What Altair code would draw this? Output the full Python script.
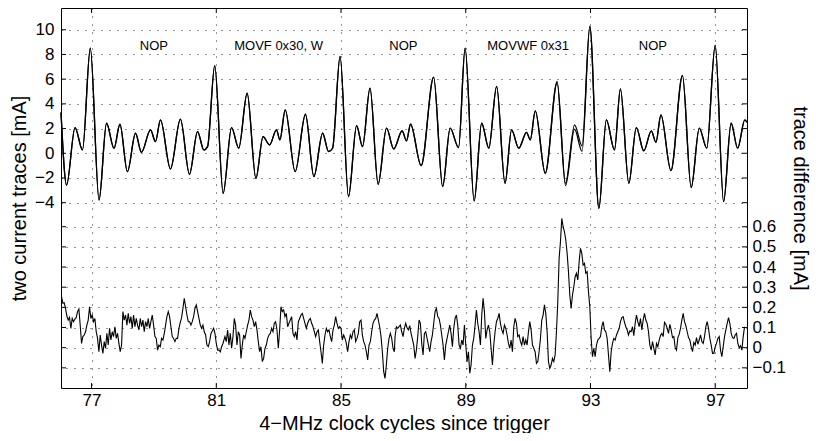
import altair as alt
import numpy as np
import pandas as pd

FONT = "Liberation Sans"

# ---------------- data ----------------
# turning points of the two current traces (clock cycles, mA)
trace_t = [76.02, 76.20, 76.47, 76.71, 76.96, 77.24, 77.48, 77.72, 77.91, 78.15,
           78.41, 78.60, 78.89, 79.05, 79.21, 79.53, 79.85, 80.14, 80.40, 80.60,
           80.72, 80.95, 81.22, 81.49, 81.72, 81.99, 82.27, 82.50, 82.71, 82.93,
           83.04, 83.21, 83.53, 83.86, 84.13, 84.41, 84.60, 84.73, 84.97, 85.24,
           85.50, 85.69, 85.93, 86.19, 86.46, 86.69, 86.96, 87.10, 87.23, 87.57,
           87.97, 88.26, 88.50, 88.77, 88.98, 89.27, 89.51, 89.74, 89.99, 90.26,
           90.47, 90.70, 90.95, 91.07, 91.23, 91.55, 91.93, 92.20, 92.49, 92.73,
           92.98, 93.27, 93.51, 93.77, 93.96, 94.23, 94.47, 94.71, 94.95, 95.10,
           95.26, 95.58, 95.95, 96.23, 96.49, 96.73, 97.00, 97.27, 97.51, 97.72,
           97.95, 98.02]
trace_a = [3.3, -2.57, 2.08, 0.27, 8.51, -3.78, 2.43, 0.40, 2.35, -1.49,
           1.62, 0.08, 1.89, 0.95, 2.70, -1.27, 2.76, -1.70, 1.76, 0.27,
           0.54, 7.10, -3.24, 2.08, 0.41, 4.86, -2.03, 1.35, 0.68, 1.89,
           1.08, 3.51, -1.49, 3.16, -1.89, 1.62, 0.14, 0.41, 7.84, -3.51,
           2.24, 0.54, 5.27, -2.51, 2.03, 0.35, 1.81, 1.00, 2.35, -1.00,
           6.16, -2.70, 2.03, 0.46, 8.51, -3.86, 2.43, 0.41, 5.41, -2.43,
           1.89, 0.41, 1.70, 1.08, 3.43, -1.62, 5.81, -2.43, 2.30, 0.60,
           10.27, -4.46, 2.70, 0.27, 5.22, -2.43, 2.08, 0.19, 1.81, 0.89,
           3.11, -1.41, 6.30, -2.78, 2.03, 0.41, 8.73, -3.92, 2.43, 0.41,
           2.70, 2.50]
trace_b = [3.3, -2.57, 2.08, 0.27, 8.51, -3.78, 2.43, 0.40, 2.35, -1.49,
           1.62, 0.08, 1.89, 0.95, 2.70, -1.27, 2.76, -1.70, 1.76, 0.27,
           0.54, 7.10, -3.24, 2.08, 0.41, 4.86, -2.03, 1.35, 0.68, 1.89,
           1.08, 3.51, -1.49, 3.16, -1.89, 1.62, 0.14, 0.41, 7.84, -3.51,
           2.24, 0.54, 5.27, -2.51, 2.03, 0.35, 1.81, 1.00, 2.35, -1.00,
           6.16, -2.70, 2.03, 0.46, 8.51, -3.86, 2.43, 0.41, 5.41, -2.43,
           1.89, 0.41, 1.70, 1.08, 3.43, -1.62, 5.70, -2.62, 1.95, 0.15,
           10.27, -4.46, 2.70, 0.27, 5.22, -2.43, 2.08, 0.19, 1.81, 0.89,
           3.11, -1.41, 6.30, -2.78, 2.03, 0.41, 8.73, -3.92, 2.43, 0.41,
           2.70, 2.50]

# trace difference (mA), four stretches of evenly sampled readings
diff_spans = [(76.037, 81.214), (81.278, 86.711), (86.733, 92.166), (92.209, 97.941)]
diff_1 = [0.253, 0.220, 0.223, 0.195, 0.157, 0.137, 0.150, 0.096, 0.145, 0.129,
          0.142, 0.149, 0.179, 0.192, 0.112, 0.021, 0.055, 0.063, 0.079, 0.112, 0.137,
          0.203, 0.145, 0.162, 0.129, 0.145, 0.079, 0.046, -0.020, 0.063, 0.013,
          -0.028, 0.030, -0.003, 0.071, 0.013, 0.096, 0.038, 0.079, 0.055, 0.104,
          0.046, 0.071, 0.021, -0.020, 0.013,
          0.179, 0.137, 0.162, 0.112, 0.170, 0.121, 0.154, 0.096, 0.162, 0.104,
          0.145, 0.112, 0.088, 0.145, 0.104, 0.137, 0.079, 0.129, 0.104, 0.145,
          0.096, 0.129, 0.162, 0.112, 0.055,
          0.046, -0.012, 0.013, 0.005, 0.046, 0.038, 0.071, 0.112, 0.154, 0.179,
          0.154, 0.104, 0.055, 0.046, 0.030, 0.046, 0.046, 0.096, 0.126, 0.149,
          0.195, 0.245, 0.203, 0.162, 0.129,
          0.129, 0.112, 0.129, 0.154, 0.195, 0.212, 0.179, 0.145, 0.112, 0.096,
          0.112, 0.079, 0.063, 0.013, 0.005, 0.030, 0.071, 0.083, 0.096, 0.071,
          0.021, -0.012, -0.012, -0.020, 0.005, 0.021]
diff_2 = [0.055, 0.030, 0.088, 0.013, 0.071, -0.003, 0.055, 0.145, 0.112, 0.013,
          0.079, 0.063, -0.053, 0.013, 0.063, 0.046, 0.079, 0.112, 0.137, 0.187,
          0.154, 0.137, 0.104, 0.129, 0.088, 0.030, -0.020, 0.005, -0.069, -0.053,
          -0.003, 0.013, 0.046, 0.063, 0.071, 0.096, 0.079, 0.121, 0.129, 0.088,
          -0.003, 0.088, 0.203, 0.179, 0.187, 0.154, 0.170, 0.104, 0.121, 0.137,
          0.154, 0.071, 0.055, 0.079, 0.038, 0.129, 0.145, 0.162, 0.170, 0.145,
          0.121, 0.096, 0.121, 0.137, 0.145, 0.121, 0.104, 0.079, 0.055, 0.079,
          0.088, 0.030, -0.020, -0.078, 0.013, 0.063, 0.096, 0.079, 0.088, 0.055,
          0.030, 0.088, 0.112, 0.154, 0.121, 0.096, 0.104, 0.096, 0.038, 0.063,
          0.046, 0.021, -0.020, 0.030, 0.063, 0.046, 0.079, 0.088, 0.030, 0.046,
          0.071, 0.129, 0.137, 0.063, 0.030, 0.013, -0.020, -0.061, 0.013, 0.030,
          0.079, 0.121, 0.137, 0.145, 0.170, 0.137, 0.104, 0.055, -0.020, -0.119,
          -0.152, -0.086, -0.003, 0.046, 0.071, 0.046, -0.003, -0.020]
diff_3 = [0.055, 0.104, 0.096, 0.104, 0.112, 0.079, 0.055, 0.096, 0.121, 0.099,
          0.088, 0.109, 0.071, 0.043, 0.013, -0.053, -0.012, 0.055, 0.137, 0.121,
          0.021, -0.036, 0.071, 0.079, 0.046, 0.013, -0.020, 0.030, 0.063, 0.121,
          0.179, 0.195, 0.154, 0.145, 0.112, 0.063, 0.013, -0.061, 0.013, 0.046,
          0.079, 0.112, 0.071, 0.005, 0.096, 0.145, 0.162, 0.112, 0.013, -0.003,
          0.038, 0.013, 0.112, 0.013, -0.069, -0.020, -0.127, -0.086, 0.013, 0.046,
          0.112, 0.187, 0.121, 0.079, 0.013, 0.162, 0.245, 0.179, 0.046, 0.088,
          0.112, 0.079, -0.003, -0.086, 0.013, 0.079, 0.129, 0.145, 0.170, 0.121,
          0.088, 0.071, 0.112, 0.096, 0.063, 0.021, -0.003, 0.038, -0.020, 0.104,
          0.145, 0.121, 0.055, 0.063, 0.030, 0.013, 0.055, 0.013, 0.038, 0.013,
          0.079, 0.129, 0.088, 0.013, -0.003, -0.020, -0.078, -0.069, -0.020, 0.046,
          0.137, 0.162, 0.212, 0.170, 0.079, -0.069, -0.102, -0.086, -0.053, -0.069,
          -0.036, 0.079, 0.228, 0.443, 0.526, 0.641, 0.600, 0.575]
diff_4 = [0.534, 0.468, 0.377, 0.261, 0.195, 0.261, 0.302, 0.352, 0.369, 0.336,
          0.426, 0.493, 0.468, 0.410, 0.418, 0.369, 0.377, 0.278, 0.203, 0.046,
          -0.045, -0.003, -0.045, 0.013, 0.038, 0.046, 0.055, 0.104, 0.129, 0.088,
          0.079, 0.046, -0.036, -0.119, -0.020, 0.021, 0.046, 0.038, 0.063, 0.079,
          0.096, 0.129, 0.149, 0.154, 0.126, 0.104, 0.088, 0.063, 0.083, 0.079,
          0.104, 0.060, 0.121, 0.162, 0.129, 0.104, 0.145, 0.088, 0.137, 0.170,
          0.137, 0.121, 0.079, 0.013, -0.012, 0.030, -0.003, -0.036, 0.021, 0.005,
          0.038, 0.060, 0.071, 0.055, 0.126, 0.116, 0.096, 0.071, 0.116, 0.088,
          0.050, 0.055, 0.000, -0.012, 0.050, 0.066, 0.096, 0.137, 0.170, 0.129,
          0.109, 0.079, 0.050, 0.038, 0.005, -0.020, 0.026, 0.013, 0.050, 0.017,
          0.038, 0.063, 0.030, 0.021, 0.055, 0.104, 0.129, 0.096, 0.046, 0.013,
          -0.028, -0.028, 0.005, 0.021, 0.046, 0.055, -0.012, -0.045, 0.005, 0.055,
          0.088, 0.121, 0.149, 0.121, 0.071, 0.050, 0.046, 0.063, 0.071, 0.021,
          0.000, 0.010, -0.012, 0.055, 0.104]
diff_vals = [diff_1, diff_2, diff_3, diff_4]

instr_cycle = [79, 83, 87, 91, 95]
instr_text = ["NOP", "MOVF 0x30, W", "NOP", "MOVWF 0x31", "NOP"]
instr_level = [8.7, 8.7, 8.7, 8.7, 8.7]

x_ticks = [77, 81, 85, 89, 93, 97]
left_ticks = [-4, -2, 0, 2, 4, 6, 8, 10]
right_ticks = [-0.1, 0.0, 0.1, 0.2, 0.3, 0.4, 0.5, 0.6]

# ---------------- tables ----------------
n = len(trace_t)
df_tr = pd.DataFrame({"t": trace_t + trace_t, "mA": trace_a + trace_b,
                      "trace": ["A"] * n + ["B"] * n})
t_diff = np.concatenate([np.linspace(a, b, len(v)) for (a, b), v in zip(diff_spans, diff_vals)])
d_diff = np.concatenate([np.array(v) for v in diff_vals])
df_diff = pd.DataFrame({"t": t_diff, "d": d_diff})
df_lab = pd.DataFrame({"t": instr_cycle, "mA": instr_level, "label": instr_text})
df_xt = pd.DataFrame({"t": x_ticks})
df_lt = pd.DataFrame({"mA": left_ticks})
df_rt = pd.DataFrame({"d": right_ticks})

W, H = 686, 380

common = dict(labelFont=FONT, titleFont=FONT, labelFontSize=17, titleFontSize=20,
              titleFontWeight="normal", labelColor="black", titleColor="black",
              ticks=False, domain=False, grid=True, gridColor="black",
              gridDash=[1, 7], gridOpacity=0.85, gridWidth=1,
              labelOverlap=False, labelFlush=False)

x_axis = alt.Axis(values=x_ticks, format="d", title="4\u2212MHz clock cycles since trigger",
                  labelPadding=4, titlePadding=5, **common)
X = alt.X("t:Q", scale=alt.Scale(domain=[76.02, 98.02], nice=False, zero=False), axis=x_axis)

l_axis = alt.Axis(values=left_ticks, title="two current traces [mA]", orient="left",
                  labelPadding=7, titlePadding=5, **common)
YL = alt.Y("mA:Q", scale=alt.Scale(domain=[-19, 11.76], nice=False, zero=False), axis=l_axis)

r_axis = alt.Axis(values=right_ticks, title="trace difference [mA]", orient="right",
                  labelPadding=5, titlePadding=4,
                  labelExpr="datum.value == 0 ? '0' : format(datum.value, '.1f')", **common)
YR = alt.Y("d:Q", scale=alt.Scale(domain=[-0.2, 1.685], nice=False, zero=False), axis=r_axis)

traces = alt.Chart(df_tr).mark_line(interpolate="monotone", color="black", strokeWidth=1.3).encode(
    x=X, y=YL, detail="trace:N")
labels = alt.Chart(df_lab).mark_text(font=FONT, fontSize=13, color="black").encode(
    x=X, y=YL, text="label:N")
lt_left = alt.Chart(df_lt).mark_rule(color="black").encode(y=YL, x=alt.value(0), x2=alt.value(5))
lt_right = alt.Chart(df_lt).mark_rule(color="black").encode(y=YL, x=alt.value(W - 5), x2=alt.value(W))
xt_bot = alt.Chart(df_xt).mark_rule(color="black").encode(x=X, y=alt.value(H - 5), y2=alt.value(H))
xt_top = alt.Chart(df_xt).mark_rule(color="black").encode(x=X, y=alt.value(0), y2=alt.value(5))
left_group = alt.layer(traces, labels, lt_left, lt_right, xt_bot, xt_top)

diff = alt.Chart(df_diff).mark_line(color="black", strokeWidth=1.1).encode(x=X, y=YR)
rt_left = alt.Chart(df_rt).mark_rule(color="black").encode(y=YR, x=alt.value(0), x2=alt.value(5))
rt_right = alt.Chart(df_rt).mark_rule(color="black").encode(y=YR, x=alt.value(W - 5), x2=alt.value(W))
right_group = alt.layer(diff, rt_left, rt_right)

chart = alt.layer(left_group, right_group).resolve_scale(y="independent").properties(
    width=W, height=H, background="white",
    autosize=alt.AutoSizeParams(type="none"),
    padding={"left": 53, "top": 0, "right": 64, "bottom": 45},
).configure_view(stroke="black", strokeWidth=1)

chart.save("out.html", embed_options={"renderer": "svg", "actions": False})
